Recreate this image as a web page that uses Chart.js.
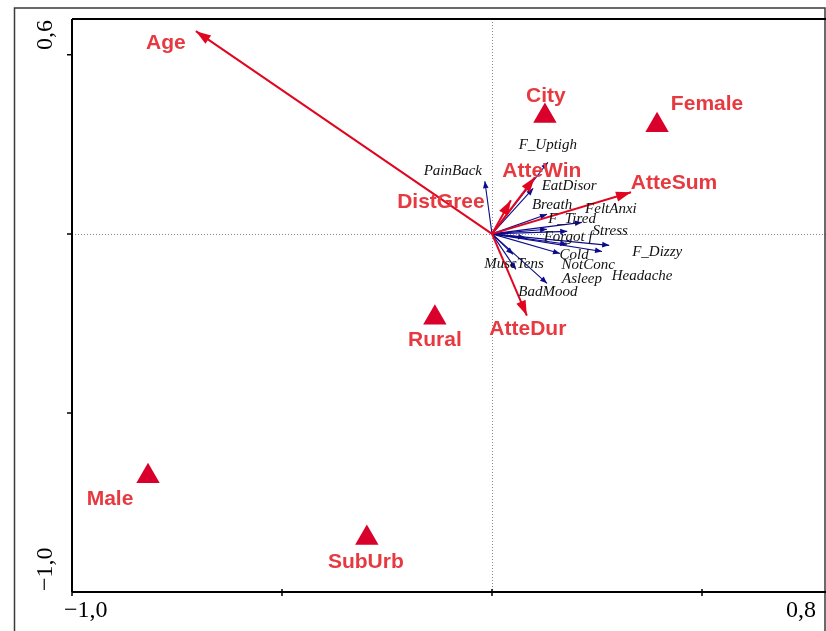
<!DOCTYPE html>
<html>
<head>
<meta charset="utf-8">
<script src="https://cdn.jsdelivr.net/npm/chart.js@4/dist/chart.umd.min.js"></script>
<style>
  html, body { margin: 0; padding: 0; overflow: hidden; background: #fff; }
  #wrap { width: 828px; height: 631px; }
</style>
</head>
<body>
<div id="wrap"><canvas id="c" width="828" height="631"></canvas></div>
<script>
// Environmental variables (red arrows)
const envNames = ['Age', 'AtteSum', 'AtteWin', 'DistGree', 'AtteDur'];
const envX = [-0.705, 0.331, 0.102, 0.045, 0.083];
const envY = [0.566, 0.116, 0.158, 0.094, -0.228];

// Symptoms (blue arrows)
const symNames = ['PainBack', 'F_Uptigh', 'EatDisor', 'Breath', 'FeltAnxi', 'F_Tired', 'Stress',
  'Forgot f', 'F_Dizzy', 'Headache', 'NotConc', 'Cold', 'MuscTens', 'Asleep', 'BadMood'];
const symX = [-0.017, 0.133, 0.098, 0.131, 0.214, 0.131, 0.179, 0.079, 0.279, 0.262, 0.179, 0.162, 0.050, 0.131, 0.057];
const symY = [0.147, 0.200, 0.127, 0.055, 0.032, 0.013, 0.007, -0.010, -0.032, -0.049, -0.029, -0.055, -0.057, -0.138, -0.099];

// Nominal variables (triangles)
const nomNames = ['City', 'Female', 'Rural', 'Male', 'SubUrb'];
const nomX = [0.126, 0.393, -0.136, -0.819, -0.298];
const nomY = [0.329, 0.303, -0.234, -0.677, -0.849];

// Axis ticks and labels
const xTicks = [-1.0, -0.5, 0, 0.5];
const yTicks = [0.5, 0, -0.5];
const xRange = [-1.0, 0.8];
const yRange = [-1.0, 0.6];
const xTickLabels = ['\u22121,0', '0,8'];
const yTickLabels = ['0,6', '\u22121,0'];

// Label placement (pixel offsets from the mark)
const labelOffset = {
  Age: [-30, 12], AtteSum: [43, -9], AtteWin: [7, -6], DistGree: [-70, 2], AtteDur: [1, 14],
  PainBack: [-32, -10], F_Uptigh: [0, -17], EatDisor: [36, -2], Breath: [5, -9], FeltAnxi: [29, -13],
  F_Tired: [25, -10], Stress: [43, 0], 'Forgot f': [43, 0], F_Dizzy: [48, 7], Headache: [40, 25],
  NotConc: [21, 21], Cold: [14, 1], MuscTens: [1, 10], Asleep: [35, -4], BadMood: [32, 23],
  City: [1, -20], Female: [50, -21], Rural: [0, 23], Male: [-38, 23], SubUrb: [-1, 24]
};

const RED = '#e1061f';
const RED_TEXT = '#e63940';
const TRI = '#d9002b';
const BLUE = '#0b0b8c';
const BOLD_FONT = 'bold 21px "Liberation Sans", Arial, sans-serif';
const ITALIC_FONT = 'italic 15px "Liberation Serif", "DejaVu Serif", serif';
const TICK_FONT = '24px "Liberation Serif", "DejaVu Serif", serif';

const datasets = [];
datasets.push({
  label: 'nominal', kind: 'nominal',
  data: nomNames.map((n, i) => ({ x: nomX[i], y: nomY[i], name: n })),
  pointStyle: 'triangle', pointRadius: 13.5, backgroundColor: TRI, borderColor: TRI, borderWidth: 0,
  showLine: false
});
envNames.forEach((n, i) => datasets.push({
  label: n, kind: 'env',
  data: [{ x: 0, y: 0 }, { x: envX[i], y: envY[i] }],
  showLine: true, borderColor: RED, borderWidth: 2, pointRadius: 0, fill: false
}));
symNames.forEach((n, i) => datasets.push({
  label: n, kind: 'sym',
  data: [{ x: 0, y: 0 }, { x: symX[i], y: symY[i] }],
  showLine: true, borderColor: BLUE, borderWidth: 1.1, pointRadius: 0, fill: false
}));

function arrowHead(ctx, x0, y0, x1, y1, len, half, color) {
  const a = Math.atan2(y1 - y0, x1 - x0);
  const c = Math.cos(a), s = Math.sin(a);
  ctx.beginPath();
  ctx.moveTo(x1, y1);
  ctx.lineTo(x1 - len * c + half * s, y1 - len * s - half * c);
  ctx.lineTo(x1 - len * c - half * s, y1 - len * s + half * c);
  ctx.closePath();
  ctx.fillStyle = color;
  ctx.fill();
}

const ordinationPlugin = {
  id: 'ordination',
  beforeDatasetsDraw(chart) {
    const ctx = chart.ctx, xs = chart.scales.x, ys = chart.scales.y;
    const x0 = xs.getPixelForValue(0), y0 = ys.getPixelForValue(0);
    const area = chart.chartArea;
    ctx.save();
    ctx.strokeStyle = '#8a8a8a';
    ctx.lineWidth = 1;
    ctx.setLineDash([1, 2]);
    ctx.beginPath();
    ctx.moveTo(Math.round(x0) + 0.5, area.top);
    ctx.lineTo(Math.round(x0) + 0.5, area.bottom);
    ctx.moveTo(area.left, Math.round(y0) + 0.5);
    ctx.lineTo(area.right, Math.round(y0) + 0.5);
    ctx.stroke();
    ctx.restore();
  },
  afterDatasetDraw(chart, args) {
    const ds = chart.data.datasets[args.index];
    if (ds.kind === 'nominal') return;
    const pts = args.meta.data;
    const ctx = chart.ctx;
    ctx.save();
    if (ds.kind === 'env') arrowHead(ctx, pts[0].x, pts[0].y, pts[1].x, pts[1].y, 15, 5, RED);
    else arrowHead(ctx, pts[0].x, pts[0].y, pts[1].x, pts[1].y, 7, 2.8, BLUE);
    ctx.restore();
  },
  afterDraw(chart) {
    const ctx = chart.ctx, xs = chart.scales.x, ys = chart.scales.y;
    const area = chart.chartArea;
    ctx.save();

    // outer frame
    ctx.strokeStyle = '#3a3a3a';
    ctx.lineWidth = 1.5;
    ctx.beginPath();
    ctx.moveTo(14.5, 640); ctx.lineTo(14.5, 8); ctx.lineTo(825, 8); ctx.lineTo(825, 640);
    ctx.stroke();

    // plot frame and axes
    ctx.strokeStyle = '#000';
    ctx.lineWidth = 2;
    ctx.beginPath();
    ctx.moveTo(area.left, area.top); ctx.lineTo(area.right + 2, area.top);
    ctx.moveTo(area.left, area.top); ctx.lineTo(area.left, area.bottom);
    ctx.moveTo(area.left, area.bottom); ctx.lineTo(area.right + 2, area.bottom);
    ctx.stroke();

    // tick marks
    ctx.lineWidth = 1.5;
    ctx.beginPath();
    xTicks.forEach(v => {
      const px = xs.getPixelForValue(v);
      ctx.moveTo(px, area.bottom - 3); ctx.lineTo(px, area.bottom + 4);
    });
    yTicks.forEach(v => {
      const py = ys.getPixelForValue(v);
      ctx.moveTo(area.left - 5, py); ctx.lineTo(area.left + 1, py);
    });
    ctx.stroke();

    // tick labels
    ctx.fillStyle = '#000';
    ctx.font = TICK_FONT;
    ctx.textBaseline = 'middle';
    ctx.textAlign = 'left';
    ctx.fillText(xTickLabels[0], xs.getPixelForValue(xRange[0]) - 8, 611);
    ctx.textAlign = 'right';
    ctx.fillText(xTickLabels[1], xs.getPixelForValue(xRange[1]) - 12, 611);

    ctx.save();
    ctx.translate(46, ys.getPixelForValue(yRange[1]) + 1);
    ctx.rotate(-Math.PI / 2);
    ctx.textAlign = 'right';
    ctx.fillText(yTickLabels[0], 0, 0);
    ctx.restore();
    ctx.save();
    ctx.translate(46, ys.getPixelForValue(yRange[0]) - 1);
    ctx.rotate(-Math.PI / 2);
    ctx.textAlign = 'left';
    ctx.fillText(yTickLabels[1], 0, 0);
    ctx.restore();

    // mark labels
    ctx.textAlign = 'center';
    ctx.textBaseline = 'middle';
    chart.data.datasets.forEach((ds, i) => {
      const meta = chart.getDatasetMeta(i);
      if (ds.kind === 'nominal') {
        ctx.font = BOLD_FONT;
        ctx.fillStyle = RED_TEXT;
        meta.data.forEach((el, j) => {
          const name = ds.data[j].name, off = labelOffset[name];
          ctx.fillText(name, el.x + off[0], el.y + off[1]);
        });
      } else {
        const tip = meta.data[1], off = labelOffset[ds.label];
        if (ds.kind === 'env') {
          ctx.font = BOLD_FONT;
          ctx.fillStyle = RED_TEXT;
        } else {
          ctx.font = ITALIC_FONT;
          ctx.fillStyle = '#111';
        }
        ctx.fillText(ds.label, tip.x + off[0], tip.y + off[1]);
      }
    });
    ctx.restore();
  }
};

new Chart(document.getElementById('c'), {
  type: 'scatter',
  data: { datasets },
  options: {
    responsive: false,
    animation: false,
    events: [],
    layout: { autoPadding: false, padding: { left: 72, top: 19, right: 0, bottom: 39 } },
    plugins: { legend: { display: false }, tooltip: { enabled: false } },
    scales: {
      x: { type: 'linear', min: xRange[0], max: xRange[1], display: false },
      y: { type: 'linear', min: yRange[0], max: yRange[1], display: false }
    }
  },
  plugins: [ordinationPlugin]
});
</script>
</body>
</html>
